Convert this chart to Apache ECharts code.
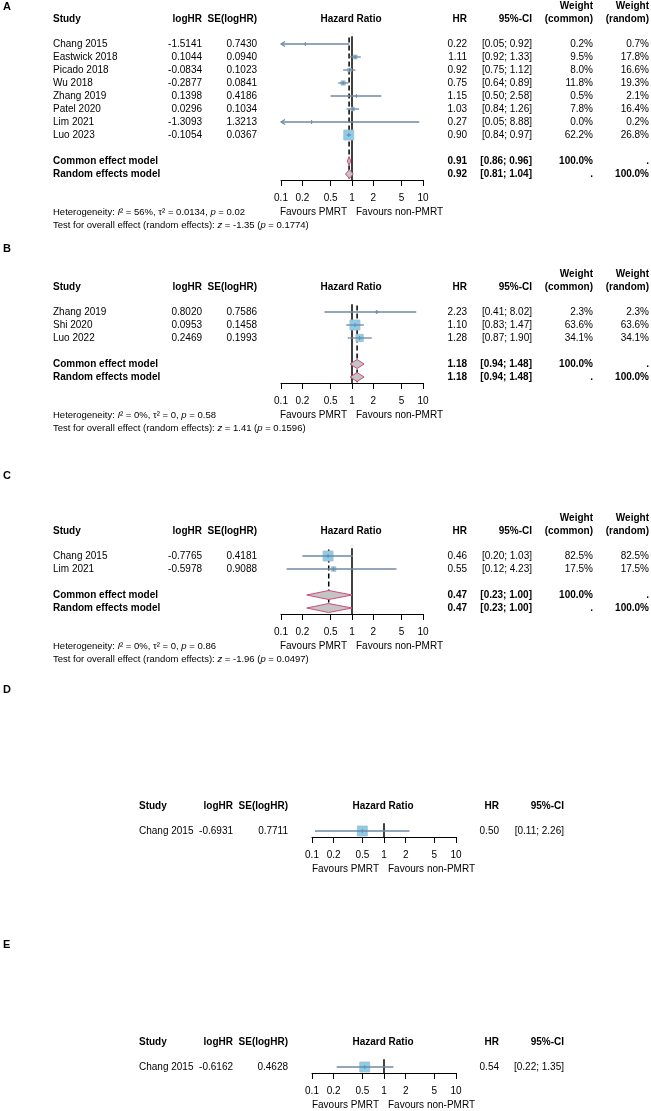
<!DOCTYPE html>
<html>
<head>
<meta charset="utf-8">
<script src="https://cdn.jsdelivr.net/npm/echarts@6/dist/echarts.min.js"></script>
<style>
  html, body { margin: 0; padding: 0; background: #fff; }
  #chart { width: 651px; height: 1111px; }
</style>
</head>
<body>
<div id="chart"></div>
<script>
// ---- data ----
const ticks = [0.1, 0.2, 0.5, 1, 2, 5, 10];

// A
const studiesA = ['Chang 2015', 'Eastwick 2018', 'Picado 2018', 'Wu 2018', 'Zhang 2019', 'Patel 2020', 'Lim 2021', 'Luo 2023'];
const logHrA = ['-1.5141', '0.1044', '-0.0834', '-0.2877', '0.1398', '0.0296', '-1.3093', '-0.1054'];
const seA = ['0.7430', '0.0940', '0.1023', '0.0841', '0.4186', '0.1034', '1.3213', '0.0367'];
const hrA = [0.22, 1.11, 0.92, 0.75, 1.15, 1.03, 0.27, 0.90];
const lowA = [0.05, 0.92, 0.75, 0.64, 0.50, 0.84, 0.05, 0.84];
const upA = [0.92, 1.33, 1.12, 0.89, 2.58, 1.26, 8.88, 0.97];
const wComA = [0.2, 9.5, 8.0, 11.8, 0.5, 7.8, 0.0, 62.2];
const wRanA = [0.7, 17.8, 16.6, 19.3, 2.1, 16.4, 0.2, 26.8];
const commonA = [0.91, 0.86, 0.96];
const randomA = [0.92, 0.81, 1.04];
const hetA = 'Heterogeneity: {i|I}² = 56%, τ² = 0.0134, {i|p} = 0.02';
const testA = 'Test for overall effect (random effects): {i|z} = -1.35 ({i|p} = 0.1774)';

// B
const studiesB = ['Zhang 2019', 'Shi 2020', 'Luo 2022'];
const logHrB = ['0.8020', '0.0953', '0.2469'];
const seB = ['0.7586', '0.1458', '0.1993'];
const hrB = [2.23, 1.10, 1.28];
const lowB = [0.41, 0.83, 0.87];
const upB = [8.02, 1.47, 1.90];
const wComB = [2.3, 63.6, 34.1];
const wRanB = [2.3, 63.6, 34.1];
const commonB = [1.18, 0.94, 1.48];
const randomB = [1.18, 0.94, 1.48];
const hetB = 'Heterogeneity: {i|I}² = 0%, τ² = 0, {i|p} = 0.58';
const testB = 'Test for overall effect (random effects): {i|z} = 1.41 ({i|p} = 0.1596)';

// C
const studiesC = ['Chang 2015', 'Lim 2021'];
const logHrC = ['-0.7765', '-0.5978'];
const seC = ['0.4181', '0.9088'];
const hrC = [0.46, 0.55];
const lowC = [0.20, 0.12];
const upC = [1.03, 4.23];
const wComC = [82.5, 17.5];
const wRanC = [82.5, 17.5];
const commonC = [0.47, 0.23, 1.00];
const randomC = [0.47, 0.23, 1.00];
const hetC = 'Heterogeneity: {i|I}² = 0%, τ² = 0, {i|p} = 0.86';
const testC = 'Test for overall effect (random effects): {i|z} = -1.96 ({i|p} = 0.0497)';

// D
const studiesD = ['Chang 2015'];
const logHrD = ['-0.6931'];
const seD = ['0.7711'];
const hrD = [0.50];
const lowD = [0.11];
const upD = [2.26];

// E
const studiesE = ['Chang 2015'];
const logHrE = ['-0.6162'];
const seE = ['0.4628'];
const hrE = [0.54];
const lowE = [0.22];
const upE = [1.35];

// ---- layout ----
const FONT = '"Liberation Sans", Arial, Helvetica, sans-serif';
const ROW = 13;
const CI_COL = '#6f89a3';
const layouts = {
    wide: {study: 53, logHr: 202, se: 257, hr: 467, ci: 532, wc: 593, wr: 649, x01: 281, x10: 423},
    narrow: {study: 139, logHr: 233, se: 288, hr: 499, ci: 564, x01: 312, x10: 456}
};

const panels = [
    {letter: 'A', ly: 7, y0: 44, lay: 'wide', studies: studiesA, logHr: logHrA, se: seA, hr: hrA, low: lowA, up: upA,
        wCom: wComA, wRan: wRanA, common: commonA, random: randomA, het: hetA, test: testA},
    {letter: 'B', ly: 249, y0: 312, lay: 'wide', studies: studiesB, logHr: logHrB, se: seB, hr: hrB, low: lowB, up: upB,
        wCom: wComB, wRan: wRanB, common: commonB, random: randomB, het: hetB, test: testB},
    {letter: 'C', ly: 476, y0: 556, lay: 'wide', studies: studiesC, logHr: logHrC, se: seC, hr: hrC, low: lowC, up: upC,
        wCom: wComC, wRan: wRanC, common: commonC, random: randomC, het: hetC, test: testC},
    {letter: 'D', ly: 690, y0: 831, lay: 'narrow', studies: studiesD, logHr: logHrD, se: seD, hr: hrD, low: lowD, up: upD},
    {letter: 'E', ly: 945, y0: 1067, lay: 'narrow', studies: studiesE, logHr: logHrE, se: seE, hr: hrE, low: lowE, up: upE}
];

const lg = v => Math.log10(v);
const tickLogs = ticks.map(lg);
const f2 = v => v.toFixed(2);
const ciTxt = (a, b) => '[' + f2(a) + '; ' + f2(b) + ']';
const pct = v => v.toFixed(1) + '%';
const RICH = {i: {fontStyle: 'italic', fontSize: 9.5, fontFamily: FONT, fill: '#000'}};

function forestItem(params, api) {
    const kind = api.value(5);
    const ch = [];
    if (kind >= 3) {
        const a = api.coord([api.value(0), api.value(2)]);
        const b = api.coord([api.value(0), api.value(3)]);
        ch.push({type: 'line', shape: {x1: a[0], y1: a[1], x2: b[0], y2: b[1]},
            style: {stroke: '#000', lineWidth: 1.5, lineDash: kind === 4 ? [5, 3] : null}});
        return {type: 'group', children: ch};
    }
    const row = api.value(1);
    const lo = api.value(2), hi = api.value(3);
    const p = api.coord([api.value(0), row]);
    const pl = api.coord([Math.max(lo, -1), row]);
    const ph = api.coord([Math.min(hi, 1), row]);
    const y = p[1];
    if (kind === 0) {
        const s = 10 * api.value(4);
        if (s > 0.3) {
            ch.push({type: 'rect', shape: {x: p[0] - s / 2, y: y - s / 2, width: s, height: s},
                style: {fill: '#89cdea', stroke: '#a9bac6', lineWidth: 0.8}});
        }
        ch.push({type: 'line', shape: {x1: pl[0], y1: y, x2: ph[0], y2: y}, style: {stroke: CI_COL, lineWidth: 1.3}});
        ch.push({type: 'line', shape: {x1: p[0], y1: y - 2, x2: p[0], y2: y + 2}, style: {stroke: CI_COL, lineWidth: 1}});
        if (lo < -1) {
            ch.push({type: 'polyline', shape: {points: [[pl[0] + 4, y - 2.5], [pl[0], y], [pl[0] + 4, y + 2.5]]},
                style: {stroke: CI_COL, lineWidth: 1.2, fill: null}});
        }
        if (hi > 1) {
            ch.push({type: 'polyline', shape: {points: [[ph[0] - 4, y - 2.5], [ph[0], y], [ph[0] - 4, y + 2.5]]},
                style: {stroke: CI_COL, lineWidth: 1.2, fill: null}});
        }
    } else {
        ch.push({type: 'polygon', shape: {points: [[pl[0], y], [p[0], y - 4.5], [ph[0], y], [p[0], y + 4.5]]},
            style: {fill: '#c4c4c4', stroke: '#d04d77', lineWidth: 1}});
    }
    return {type: 'group', children: ch};
}

const grids = [], xAxes = [], yAxes = [], series = [], graphics = [];

panels.forEach(function (p, k) {
    const L = layouts[p.lay];
    const n = p.studies.length;
    const pooled = !!p.common;
    const lastRow = pooled ? n + 2 : n - 1;
    const ymin = -0.6, ymax = lastRow + 0.46;

    grids.push({left: L.x01, width: L.x10 - L.x01, top: p.y0 + ymin * ROW, height: (ymax - ymin) * ROW});
    xAxes.push({
        gridIndex: k, type: 'value', min: -1, max: 1, position: 'bottom',
        axisLine: {show: true, onZero: false, lineStyle: {color: '#000', width: 1}},
        axisTick: {show: true, length: 6, customValues: tickLogs, lineStyle: {color: '#000', width: 1}},
        axisLabel: {
            customValues: tickLogs, margin: 13, fontSize: 10, color: '#000', fontFamily: FONT,
            formatter: function (v) {
                const t = ticks.find(t => Math.abs(lg(t) - v) < 1e-6);
                return t === undefined ? '' : String(t);
            }
        },
        splitLine: {show: false}
    });
    yAxes.push({gridIndex: k, type: 'value', inverse: true, min: ymin, max: ymax, show: false});

    // marks
    const wmax = p.wCom ? Math.max.apply(null, p.wCom) : 1;
    const marks = [[0, 0, -0.6, ymax, 0, 3]];
    if (pooled) marks.push([lg(p.common[0]), 0, -0.5, lastRow + 0.4, 0, 4]);
    p.studies.forEach(function (s, i) {
        marks.push([lg(p.hr[i]), i, lg(p.low[i]), lg(p.up[i]), p.wCom ? Math.sqrt(p.wCom[i] / wmax) : 1, 0]);
    });
    if (pooled) {
        marks.push([lg(p.common[0]), n + 1, lg(p.common[1]), lg(p.common[2]), 0, 1]);
        marks.push([lg(p.random[0]), n + 2, lg(p.random[1]), lg(p.random[2]), 0, 2]);
    }
    series.push({type: 'custom', xAxisIndex: k, yAxisIndex: k, data: marks, renderItem: forestItem, silent: true, clip: false});

    // table text
    const rows = [];
    const wide = p.lay === 'wide';
    if (wide) {
        rows.push({row: -38 / ROW, cells: [
            {x: L.wc, t: 'Weight', al: 'right', b: 1}, {x: L.wr, t: 'Weight', al: 'right', b: 1}]});
    }
    const head = [
        {x: L.study, t: 'Study', b: 1}, {x: L.logHr, t: 'logHR', al: 'right', b: 1},
        {x: L.se, t: 'SE(logHR)', al: 'right', b: 1}, {xv: 0, dx: -1, t: 'Hazard Ratio', al: 'center', b: 1},
        {x: L.hr, t: 'HR', al: 'right', b: 1}, {x: L.ci, t: '95%-CI', al: 'right', b: 1}];
    if (wide) head.push({x: L.wc, t: '(common)', al: 'right', b: 1}, {x: L.wr, t: '(random)', al: 'right', b: 1});
    rows.push({row: -25 / ROW, cells: head});
    p.studies.forEach(function (s, i) {
        const c = [
            {x: L.study, t: s}, {x: L.logHr, t: p.logHr[i], al: 'right'}, {x: L.se, t: p.se[i], al: 'right'},
            {x: L.hr, t: f2(p.hr[i]), al: 'right'}, {x: L.ci, t: ciTxt(p.low[i], p.up[i]), al: 'right'}];
        if (wide) c.push({x: L.wc, t: pct(p.wCom[i]), al: 'right'}, {x: L.wr, t: pct(p.wRan[i]), al: 'right'});
        rows.push({row: i, cells: c});
    });
    if (pooled) {
        rows.push({row: n + 1, cells: [
            {x: L.study, t: 'Common effect model', b: 1}, {x: L.hr, t: f2(p.common[0]), al: 'right', b: 1},
            {x: L.ci, t: ciTxt(p.common[1], p.common[2]), al: 'right', b: 1},
            {x: L.wc, t: '100.0%', al: 'right', b: 1}, {x: L.wr, t: '.', al: 'right', b: 1}]});
        rows.push({row: n + 2, cells: [
            {x: L.study, t: 'Random effects model', b: 1}, {x: L.hr, t: f2(p.random[0]), al: 'right', b: 1},
            {x: L.ci, t: ciTxt(p.random[1], p.random[2]), al: 'right', b: 1},
            {x: L.wc, t: '.', al: 'right', b: 1}, {x: L.wr, t: '100.0%', al: 'right', b: 1}]});
    }
    const foot = [{xv: 0, dx: -5, t: 'Favours PMRT', al: 'right'}, {xv: 0, dx: 4, t: 'Favours non-PMRT'}];
    if (p.het) foot.push({x: L.study, t: p.het, fs: 9.5});
    rows.push({row: ymax + 32 / ROW, cells: foot});
    if (p.test) rows.push({row: ymax + 45 / ROW, cells: [{x: L.study, t: p.test, fs: 9.5}]});

    series.push({
        type: 'custom', xAxisIndex: k, yAxisIndex: k, silent: true, clip: false,
        data: rows.map(r => [0, r.row]),
        renderItem: function (params, api) {
            const r = rows[params.dataIndex];
            const y = api.coord([0, api.value(1)])[1];
            return {
                type: 'group',
                children: r.cells.map(function (c) {
                    const x = c.xv !== undefined ? api.coord([c.xv, 0])[0] + (c.dx || 0) : c.x;
                    return {
                        type: 'text', x: x, y: y,
                        style: {
                            text: c.t, fill: '#000', fontSize: c.fs || 10, fontFamily: FONT,
                            fontWeight: c.b ? 'bold' : 'normal', align: c.al || 'left', verticalAlign: 'middle',
                            rich: RICH
                        }
                    };
                })
            };
        }
    });

    graphics.push({type: 'text', left: 3, top: p.ly - 6,
        style: {text: p.letter, fontSize: 11, fontWeight: 'bold', fontFamily: FONT, fill: '#000'}});
});

const chart = echarts.init(document.getElementById('chart'), null, {renderer: 'canvas'});
chart.setOption({
    animation: false,
    backgroundColor: '#fff',
    grid: grids,
    xAxis: xAxes,
    yAxis: yAxes,
    graphic: graphics,
    series: series
});
</script>
</body>
</html>
